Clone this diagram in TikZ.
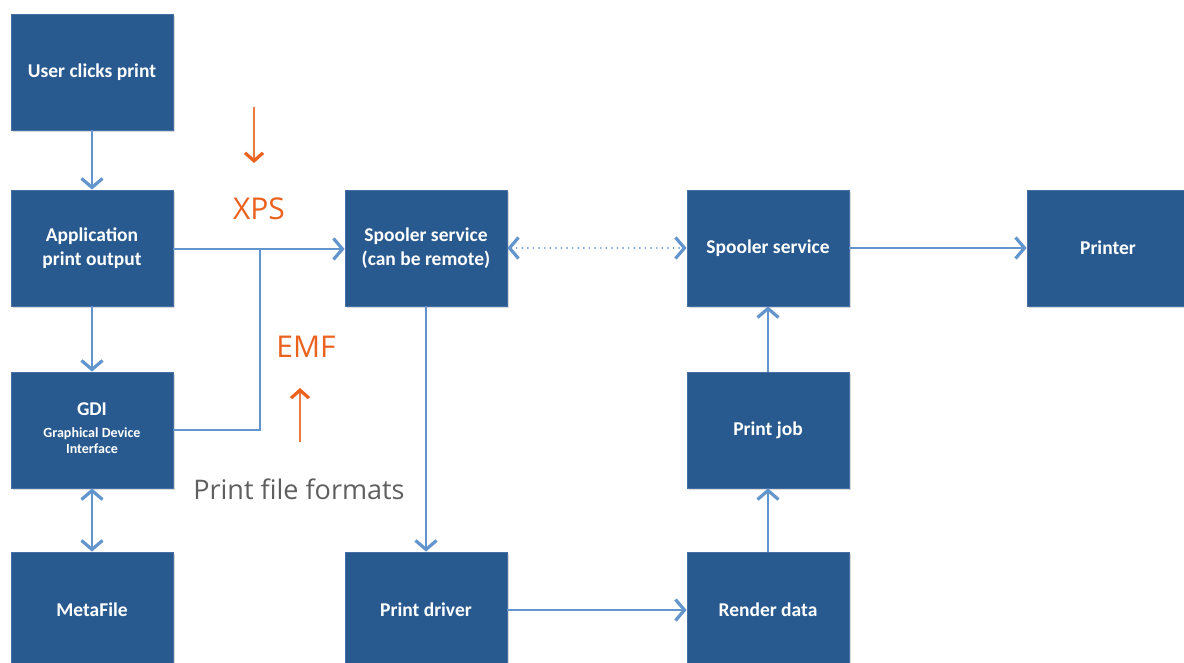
\documentclass[tikz,border=0pt]{standalone}
\usepackage{fontspec}
\setmainfont{Carlito}
\newfontfamily\labelfont{Open Sans}
\usetikzlibrary{arrows.meta,shadows}

\definecolor{boxblue}{RGB}{41,90,143}
\definecolor{boxedge}{RGB}{70,112,165}
\definecolor{linkblue}{RGB}{98,148,206}
\definecolor{fmtorange}{RGB}{234,98,30}
\definecolor{captiongray}{RGB}{95,95,95}

\tikzset{
  barb/.tip={Straight Barb[length=9pt,width=21pt,line width=3.2pt]},
  stagebox/.style={rectangle, fill=boxblue, draw=boxedge, line width=0.8pt,
    minimum width=162pt, minimum height=116pt, inner sep=2pt,
    text=white, font=\bfseries\fontsize{19.5}{24}\selectfont, align=center,
    drop shadow={shadow xshift=1.5pt, shadow yshift=-2pt, opacity=0.25, fill=black!60}},
  link/.style={draw=linkblue, line width=1.3pt, -barb},
  linkboth/.style={draw=linkblue, line width=1.3pt, barb-barb},
  plainlink/.style={draw=linkblue, line width=1.3pt},
  fmtarrow/.style={draw=fmtorange!85, line width=1.2pt,
    -{Straight Barb[length=8pt,width=18pt,line width=3.2pt,color=fmtorange]}},
  fmtlabel/.style={text=fmtorange, font=\labelfont\fontsize{30}{34}\selectfont, inner sep=0pt},
}
\newcommand{\gdisub}{\fontsize{14}{17}\selectfont}

\begin{document}
\begin{tikzpicture}[x=1pt,y=-1pt]
\useasboundingbox (0,0) rectangle (1184,663);
\clip (0,0) rectangle (1184,663);

% left column: application side
\node[stagebox] (user) at (92,72) {User clicks print};
\node[stagebox] (app)  at (92,248) {Application\\print output};
\node[stagebox] (gdi)  at (92,430) {\raisebox{-7pt}{\begin{tabular}{@{}c@{}}GDI\\[-2pt]{\gdisub Graphical Device}\\[-8pt]{\gdisub Interface}\end{tabular}}};
\node[stagebox] (meta) at (92,610) {MetaFile};

% middle column
\node[stagebox] (spool1) at (426,248) {Spooler service\\(can be remote)};
\node[stagebox] (driver) at (426,610) {Print driver};

% right columns
\node[stagebox] (spool2) at (768,248) {Spooler service};
\node[stagebox] (job)    at (768,430) {Print job};
\node[stagebox] (render) at (768,610) {Render data};
\node[stagebox] (printer) at (1108,248) {Printer};

% junction where the GDI output joins the application output
\coordinate (merge) at (260,249);

% connectors
\draw[link] (user) -- (app);
\draw[link] (app) -- (gdi);
\draw[linkboth] (gdi) -- (meta);
\draw[link] (app.east |- merge) -- (spool1.west |- merge);
\draw[plainlink] (gdi.east) -| (merge);
\draw[draw=linkblue, line width=1.9pt, line cap=round, dash pattern=on 0pt off 5.6pt, barb-barb]
  (spool1.east) -- (spool2.west);
\draw[link] (spool2) -- (printer);
\draw[link] (spool1) -- (driver);
\draw[link] (driver) -- (render);
\draw[link] (render) -- (job);
\draw[link] (job) -- (spool2);

% print file formats
\node[fmtlabel] (xps) at (259,209) {XPS};
\node[fmtlabel] (emf) at (306,347) {EMF};
\coordinate (xpstop) at (254,107);
\coordinate (emfbottom) at (300,442);
\draw[fmtarrow] (xpstop) -- (254,163);
\draw[fmtarrow] (emfbottom) -- (300,388);
\node[text=captiongray, font=\labelfont\fontsize{27}{31}\selectfont, inner sep=0pt] (formats) at (299,489) {Print file formats};
\end{tikzpicture}
\end{document}
